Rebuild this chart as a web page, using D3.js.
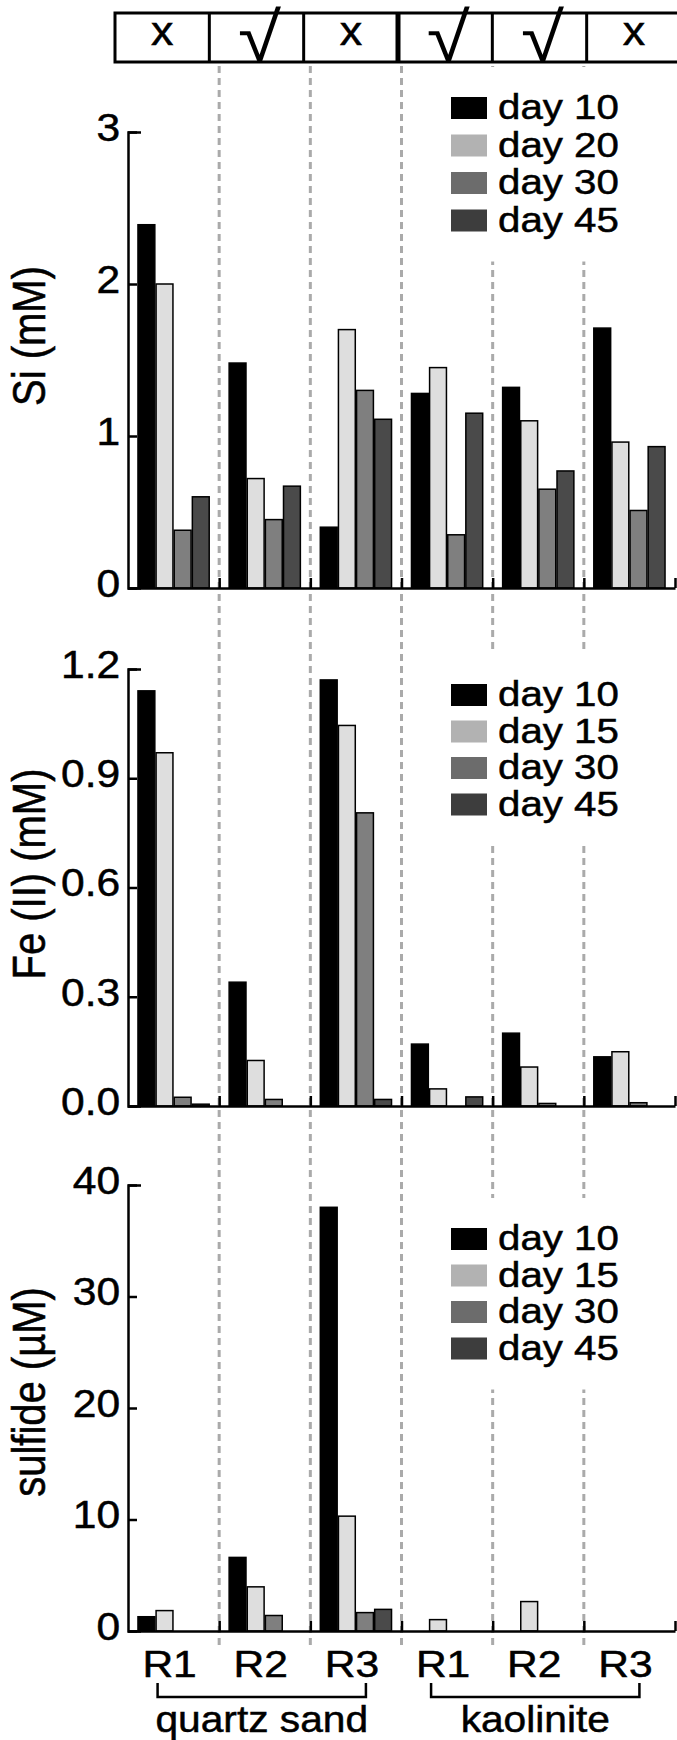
<!DOCTYPE html>
<html>
<head>
<meta charset="utf-8">
<script src="https://cdn.jsdelivr.net/npm/d3@7"></script>
<style>
  body { margin: 0; background: #fff; }
  svg text { font-family: "Liberation Sans", Arial, sans-serif; fill: #000; stroke: #000; stroke-width: 0.5px; }
</style>
</head>
<body>
<div id="chart"></div>
<script>
// reactors along the x axis, and the two materials
var reactors = ["R1", "R2", "R3", "R1", "R2", "R3"];
var materials = ["quartz sand", "kaolinite"];
var materialGroups = [[0, 1, 2], [3, 4, 5]];
var marks = ["x", "\u221A", "x", "\u221A", "\u221A", "x"];

// Si (mM)
var siDays = ["day 10", "day 20", "day 30", "day 45"];
var siDay10 = [2.39, 1.48, 0.40, 1.28, 1.32, 1.71];
var siDay20 = [2.00, 0.72, 1.70, 1.45, 1.10, 0.96];
var siDay30 = [0.38, 0.45, 1.30, 0.35, 0.65, 0.51];
var siDay45 = [0.60, 0.67, 1.11, 1.15, 0.77, 0.93];
var siTicks = [0, 1, 2, 3];

// Fe(II) (mM)
var feDays = ["day 10", "day 15", "day 30", "day 45"];
var feDay10 = [1.14, 0.34, 1.17, 0.17, 0.20, 0.135];
var feDay15 = [0.97, 0.125, 1.045, 0.047, 0.107, 0.149];
var feDay30 = [0.024, 0.018, 0.805, 0, 0.007, 0.009];
var feDay45 = [0.005, 0, 0.018, 0.025, 0, 0];
var feTicks = [0, 0.3, 0.6, 0.9, 1.2];

// sulfide (uM)
var sulfideDays = ["day 10", "day 15", "day 30", "day 45"];
var sulfideDay10 = [1.28, 6.6, 38.0, 0, 0, 0];
var sulfideDay15 = [1.83, 3.96, 10.3, 1.02, 2.64, 0];
var sulfideDay30 = [0, 1.39, 1.65, 0, 0, 0];
var sulfideDay45 = [0, 0, 1.94, 0, 0, 0];
var sulfideTicks = [0, 10, 20, 30, 40];

var width = 677, height = 1740,
    stretch = 1.12;

var barColors = ["#000000", "#dedede", "#7f7f7f", "#4a4a4a"];
var legendColors = ["#000000", "#b2b2b2", "#6c6c6c", "#3d3d3d"];

var panels = [
  {title: "Si (mM)", days: siDays, series: [siDay10, siDay20, siDay30, siDay45],
   ticks: siTicks, format: d3.format("d"), top: 132, bottom: 588,
   legendTop: 97, legendStep: 37.5, titleY: 336},
  {title: "Fe (II) (mM)", days: feDays, series: [feDay10, feDay15, feDay30, feDay45],
   ticks: feTicks, format: d3.format(".1f"), top: 669, bottom: 1106,
   legendTop: 684, legendStep: 36.5, titleY: 874},
  {title: "sulfide (\u00B5M)", days: sulfideDays, series: [sulfideDay10, sulfideDay15, sulfideDay30, sulfideDay45],
   ticks: sulfideTicks, format: d3.format("d"), top: 1185, bottom: 1631,
   legendTop: 1228, legendStep: 36.5, titleY: 1392}
];

var svg = d3.select("#chart")
  .append("svg")
    .attr("width", width)
    .attr("height", height);

// x scales: one band per reactor, one sub band per day
var x0 = d3.scaleBand()
           .domain(d3.range(reactors.length))
           .range([128, 675]);
var x1 = d3.scaleBand()
           .domain(d3.range(4))
           .range([0, x0.bandwidth()])
           .paddingInner(0.07)
           .paddingOuter(0.55);
var xb = d3.scaleLinear()
           .domain([0, reactors.length])
           .range([128, 675]);

// grey dashed separators, behind everything
svg.append("g")
  .selectAll("line")
  .data(d3.range(1, reactors.length))
  .enter()
  .append("line")
    .attr("x1", d => xb(d))
    .attr("x2", d => xb(d))
    .attr("y1", 66)
    .attr("y2", 1646)
    .attr("stroke", "#aaaaaa")
    .attr("stroke-width", 3)
    .attr("stroke-dasharray", "7,5");

// box with x / check marks on top
var xbox = d3.scaleBand()
             .domain(d3.range(marks.length))
             .range([115, 681]);
var box = svg.append("g");
box.append("rect")
  .attr("x", xbox.range()[0])
  .attr("y", 13)
  .attr("width", xbox.range()[1] - xbox.range()[0])
  .attr("height", 49)
  .attr("fill", "#fff")
  .attr("stroke", "#000")
  .attr("stroke-width", 3);
box.selectAll(".divider")
  .data(d3.range(1, marks.length))
  .enter()
  .append("line")
    .attr("x1", d => xbox(d))
    .attr("x2", d => xbox(d))
    .attr("y1", 13)
    .attr("y2", 62)
    .attr("stroke", "#000")
    .attr("stroke-width", d => d == 3 ? 5 : 3);
box.selectAll("text")
  .data(marks)
  .enter()
  .append("text")
    .attr("text-anchor", "middle")
    .attr("font-size", d => d == "x" ? 40 : 70)
    .style("stroke-width", d => d == "x" ? "0.5px" : "0px")
    .attr("transform", (d, i) => "translate(" + (xbox(i) + xbox.bandwidth() / 2 + (d == "x" ? 0 : 3)) + "," + (d == "x" ? 45 : 62) + ") scale(" + stretch + ",1)")
    .text(d => d);

panels.forEach(function(p) {
  var y = d3.scaleLinear()
            .domain([0, d3.max(p.ticks)])
            .range([p.bottom, p.top]);
  var g = svg.append("g");

  // legend, its white box hides the dashed lines
  var lg = g.append("g");
  lg.append("rect")
    .attr("x", 440)
    .attr("y", p.legendTop - 30)
    .attr("width", 232)
    .attr("height", 3 * p.legendStep + 22 + 60)
    .attr("fill", "#fff");
  lg.selectAll(".key")
    .data(p.days)
    .enter()
    .append("rect")
      .attr("x", 451)
      .attr("y", (d, i) => p.legendTop + i * p.legendStep)
      .attr("width", 36)
      .attr("height", 22)
      .attr("fill", (d, i) => legendColors[i]);
  lg.selectAll("text")
    .data(p.days)
    .enter()
    .append("text")
      .attr("font-size", 35)
      .attr("transform", (d, i) => "translate(498," + (p.legendTop + i * p.legendStep + 22) + ") scale(1.15,1)")
      .text(d => d);

  // bars
  var bars = [];
  p.series.forEach(function(s, j) {
    s.forEach(function(v, i) {
      if (v > 0) bars.push({group: i, day: j, value: v});
    });
  });
  g.selectAll(".bar")
    .data(bars)
    .enter()
    .append("rect")
      .attr("x", d => x0(d.group) + x1(d.day))
      .attr("y", d => y(d.value))
      .attr("width", x1.bandwidth())
      .attr("height", d => y(0) - y(d.value))
      .attr("fill", d => barColors[d.day])
      .attr("stroke", "#000")
      .attr("stroke-width", 1.5);

  // x axis with small ticks at the group borders
  var xa = g.append("g")
    .attr("transform", "translate(0," + p.bottom + ")")
    .call(d3.axisBottom(xb)
            .tickValues(d3.range(1, reactors.length + 1))
            .tickSizeInner(-10)
            .tickSizeOuter(0)
            .tickFormat(""));
  xa.select(".domain").attr("stroke-width", 2.5);
  xa.selectAll(".tick line").attr("stroke-width", 2.5);

  // y axis, ticks pointing inside
  var ya = g.append("g")
    .attr("transform", "translate(" + xb(0) + ",0)")
    .call(d3.axisLeft(y)
            .tickValues(p.ticks)
            .tickSizeInner(-9)
            .tickSizeOuter(-13)
            .tickPadding(7)
            .tickFormat(p.format));
  ya.attr("font-size", 38).attr("font-family", null);
  ya.select(".domain").attr("stroke-width", 2.5);
  ya.selectAll(".tick line").attr("stroke-width", 2.5);
  ya.selectAll(".tick text")
    .attr("dy", "0.22em")
    .attr("transform", "scale(" + stretch + ",1)");

  // axis title, the figure is a bit wider than tall so glyphs get thicker
  g.append("text")
    .attr("text-anchor", "middle")
    .attr("font-size", 40)
    .attr("transform", "translate(45," + p.titleY + ") scale(1.15,1) rotate(-90)")
    .text(p.title);
});

// reactor labels under the last panel
var last = panels[panels.length - 1];
var la = svg.append("g")
  .attr("transform", "translate(-4," + last.bottom + ")")
  .call(d3.axisBottom(x0)
          .tickSize(0)
          .tickPadding(20)
          .tickFormat(i => reactors[i]));
la.attr("font-size", 37).attr("font-family", null);
la.select(".domain").remove();
la.selectAll(".tick text").attr("transform", "scale(1.15,1)");

// brackets and material names
var half = x0.bandwidth() / 2;
var brackets = svg.append("g")
  .selectAll("g")
  .data(materials)
  .enter()
  .append("g");
brackets.append("path")
  .attr("d", function(d, i) {
    var l = x0(materialGroups[i][0]) + half - 16,
        r = x0(materialGroups[i][2]) + half + 10;
    return "M" + l + ",1683V1697H" + r + "V1683";
  })
  .attr("fill", "none")
  .attr("stroke", "#000")
  .attr("stroke-width", 2.5);
brackets.append("text")
  .attr("text-anchor", "middle")
  .attr("font-size", 37)
  .attr("transform", function(d, i) {
    var c = (x0(materialGroups[i][0]) + x0(materialGroups[i][2]) + 2 * half - 6) / 2;
    return "translate(" + c + ",1732) scale(1.1,1)";
  })
  .text(d => d);
</script>
</body>
</html>
